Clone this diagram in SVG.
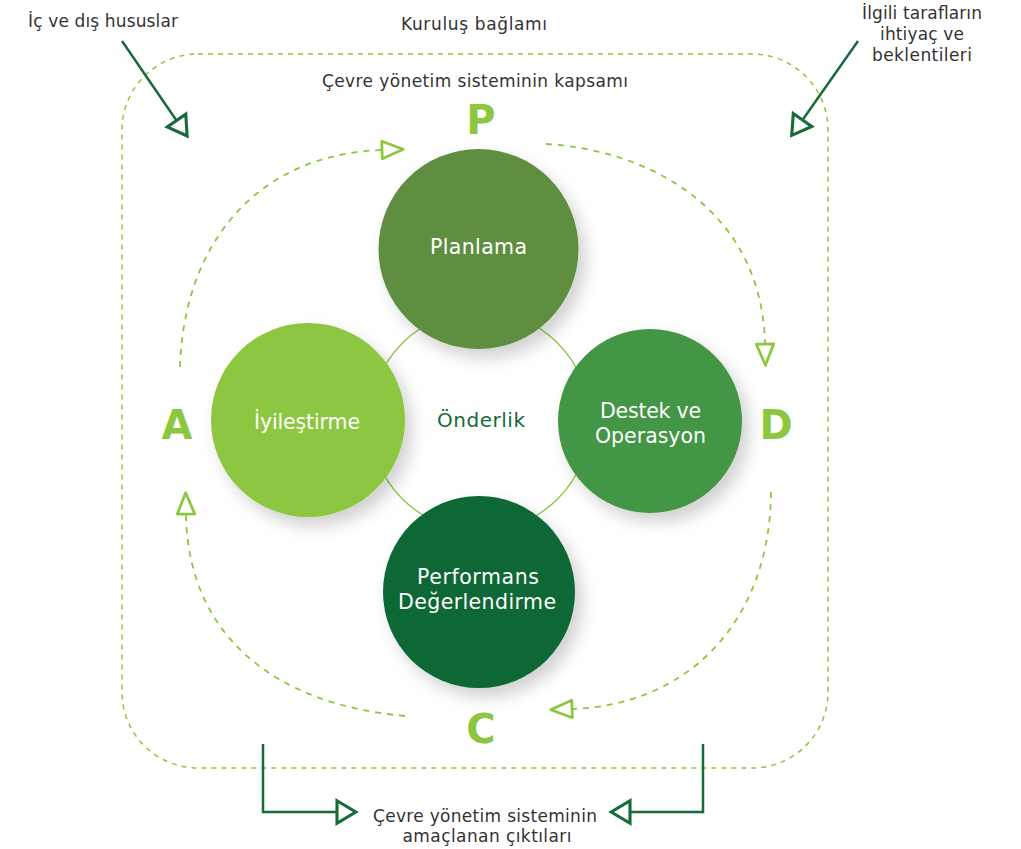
<svg xmlns="http://www.w3.org/2000/svg" width="1021" height="849" viewBox="0 0 1021 849">
<style>
.lbl{font-family:"DejaVu Sans","Noto Sans","Liberation Sans",sans-serif;font-size:17px;fill:#333333;text-anchor:middle}
.ct{font-family:"DejaVu Sans","Noto Sans","Liberation Sans",sans-serif;font-size:20.5px;fill:#ffffff;text-anchor:middle}
.big{font-family:"DejaVu Sans","Liberation Sans",sans-serif;font-size:40px;font-weight:bold;fill:#8dc63f;text-anchor:middle}
.cyc{fill:none;stroke:#8dc63f;stroke-width:1.8;stroke-dasharray:6 6}
.dk{fill:none;stroke:#176b3a;stroke-width:2.5}
</style>
<defs>
<filter id="sh" x="-30%" y="-30%" width="170%" height="170%">
<feDropShadow dx="7" dy="9" stdDeviation="8" flood-color="#000000" flood-opacity="0.18"/>
</filter>
<marker id="ga" markerUnits="userSpaceOnUse" markerWidth="30" markerHeight="30" viewBox="-3 -10 24 20" refX="0" refY="0" orient="auto" overflow="visible">
<path d="M0,-7 L17,0 L0,7 Z" fill="#ffffff" stroke="#8dc63f" stroke-width="2.2" stroke-linejoin="round" stroke-dasharray="none"/>
</marker>
<marker id="da" markerUnits="userSpaceOnUse" markerWidth="30" markerHeight="30" viewBox="-3 -12 22 24" refX="0" refY="0" orient="auto" overflow="visible">
<path d="M0,-9 L15,0 L0,9 Z" fill="#ffffff" stroke="#176b3a" stroke-width="2.5" stroke-linejoin="miter"/>
</marker>
</defs>
<rect x="0" y="0" width="1021" height="849" fill="#ffffff"/>

<g id="scope-frame">
<rect x="122" y="54" width="706" height="714" rx="76" ry="76" fill="none" stroke="#8dc63f" stroke-width="1.5" stroke-dasharray="5 5"/>
</g>

<g id="leadership-ring">
<circle cx="480" cy="421" r="110" fill="none" stroke="#8dc63f" stroke-width="1.3"/>
<text x="481" y="427" class="lbl" style="fill:#176b3a;font-size:20px" textLength="88">Önderlik</text>
</g>

<g id="connectors">
<path class="cyc" d="M180,367 C184,240 260,154 382,150" marker-end="url(#ga)"/>
<path class="cyc" d="M546,144 C650,150 762,210 765,344" marker-end="url(#ga)"/>
<path class="cyc" d="M771,492 C770,620 690,705 572,709" marker-end="url(#ga)"/>
<path class="cyc" d="M405,716 C280,705 188,640 186,514" marker-end="url(#ga)"/>
<path class="dk" d="M122,41 L176.5,120.5" marker-end="url(#da)"/>
<path class="dk" d="M858,41 L802.5,120" marker-end="url(#da)"/>
<path class="dk" d="M263,744 L263,812 L337,812" marker-end="url(#da)"/>
<path class="dk" d="M703,744 L703,812 L630,812" marker-end="url(#da)"/>
</g>

<g id="planlama">
<circle cx="478.5" cy="249" r="100" fill="#5f8e3f" filter="url(#sh)"/>
<text x="478.5" y="254" class="ct" textLength="97">Planlama</text>
</g>
<g id="iyilestirme">
<circle cx="308" cy="420" r="97" fill="#8dc63f" filter="url(#sh)"/>
<text x="307" y="429" class="ct" textLength="106">İyileştirme</text>
</g>
<g id="destek">
<circle cx="650" cy="421" r="92" fill="#439645" filter="url(#sh)"/>
<text x="650.5" y="418" class="ct" textLength="101">Destek ve</text>
<text x="650.5" y="443" class="ct" textLength="111">Operasyon</text>
</g>
<g id="performans">
<circle cx="479" cy="592" r="96" fill="#106836" filter="url(#sh)"/>
<text x="478" y="584" class="ct" textLength="122">Performans</text>
<text x="477" y="609" class="ct" textLength="158">Değerlendirme</text>
</g>

<g id="pdca-letters">
<text x="481" y="134" class="big">P</text>
<text x="776" y="439" class="big">D</text>
<text x="481" y="743" class="big">C</text>
<text x="177" y="439" class="big">A</text>
</g>

<g id="labels">
<text x="103" y="27" class="lbl" textLength="150">İç ve dış hususlar</text>
<text x="474" y="30" class="lbl" textLength="146">Kuruluş bağlamı</text>
<text x="475" y="87" class="lbl" textLength="306">Çevre yönetim sisteminin kapsamı</text>
<text x="922" y="19" class="lbl" textLength="120">İlgili tarafların</text>
<text x="922" y="40" class="lbl" textLength="84">ihtiyaç ve</text>
<text x="922" y="61" class="lbl" textLength="100">beklentileri</text>
<text x="485" y="822" class="lbl" textLength="224">Çevre yönetim sisteminin</text>
<text x="487" y="842" class="lbl" textLength="169">amaçlanan çıktıları</text>
</g>
</svg>
